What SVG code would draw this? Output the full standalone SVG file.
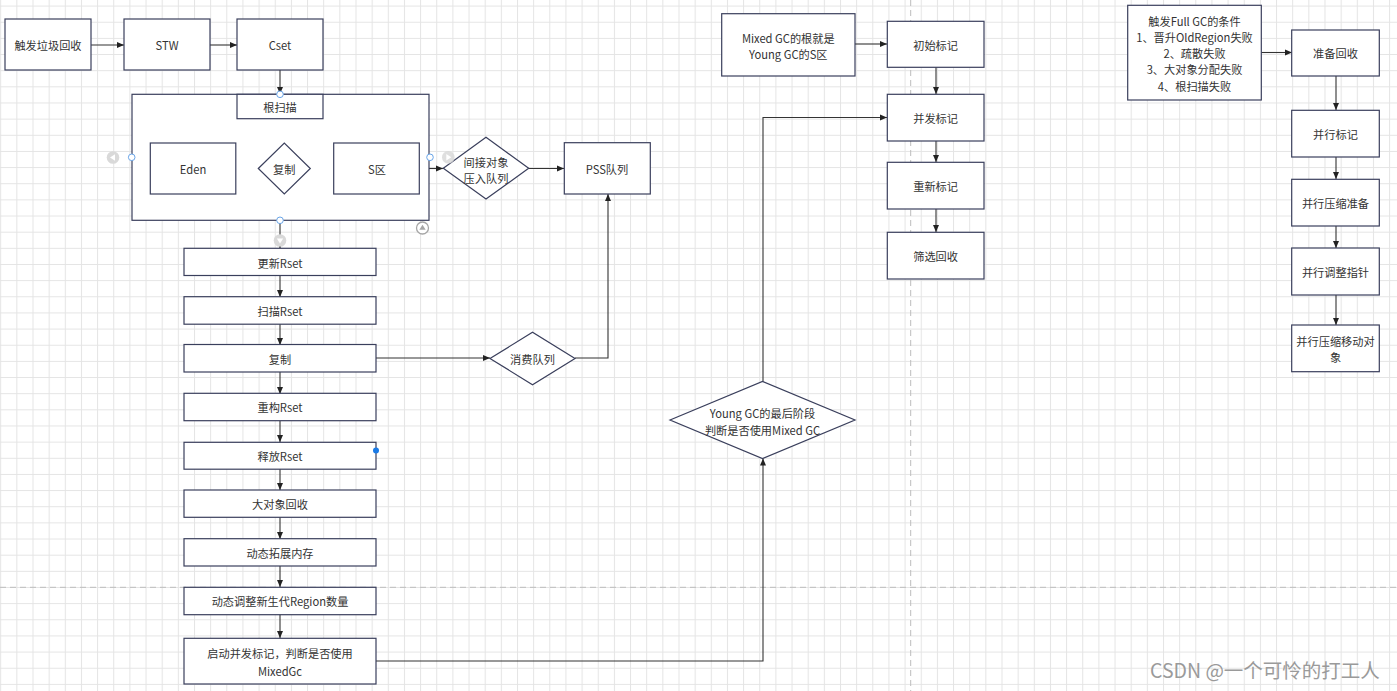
<svg xmlns="http://www.w3.org/2000/svg" width="1397" height="691" viewBox="0 0 1397 691">
<style>
.n{fill:#fff;stroke:#3a3f5c;stroke-width:1.2}
.t{font-family:"Noto Sans CJK SC","Microsoft YaHei",sans-serif;font-size:11.2px;fill:#333;text-anchor:middle;dominant-baseline:central}
.c{fill:none;stroke:#333;stroke-width:1.1}
.pb{stroke:#bdbdbd;stroke-width:1;stroke-dasharray:6 4}
.h{fill:#fff;stroke:#6aa5e8;stroke-width:1}
.gi{fill:#d9d9d9}
.gt{fill:#fff}
</style>
<defs>
<pattern id="grid" patternUnits="userSpaceOnUse" x="0.2" y="5.6" width="16.15" height="16.15">
<path d="M0.5,0 V16.15 M0,0.5 H16.15" fill="none" stroke="#e4e4e4" stroke-width="1"/>
</pattern>
<marker id="ah" markerUnits="userSpaceOnUse" markerWidth="7" markerHeight="7" refX="7" refY="3.5" orient="auto">
<path d="M0,0.5 L7,3.5 L0,6.5 z" fill="#222"/>
</marker>
</defs>
<rect width="1397" height="691" fill="#fff"/>
<rect width="1397" height="691" fill="url(#grid)"/>
<g id="page-breaks">
<line class="pb" x1="0" y1="587.3" x2="1397" y2="587.3"/>
<line class="pb" x1="910.7" y1="0" x2="910.7" y2="691"/>
</g>
<g id="connectors">
<path class="c" d="M91,45 H124" marker-end="url(#ah)"/>
<path class="c" d="M210,45 H237" marker-end="url(#ah)"/>
<path class="c" d="M280,70 V94" marker-end="url(#ah)"/>
<path class="c" d="M236,168.5 H258" marker-end="url(#ah)"/>
<path class="c" d="M310,168.5 H334" marker-end="url(#ah)"/>
<path class="c" d="M420,168.5 H443" marker-end="url(#ah)"/>
<path class="c" d="M529,168.5 H564" marker-end="url(#ah)"/>
<path class="c" d="M280,220 V248" marker-end="url(#ah)"/>
<path class="c" d="M280,276 V297" marker-end="url(#ah)"/>
<path class="c" d="M280,324 V345" marker-end="url(#ah)"/>
<path class="c" d="M280,372 V394" marker-end="url(#ah)"/>
<path class="c" d="M280,421 V442" marker-end="url(#ah)"/>
<path class="c" d="M280,469 V490" marker-end="url(#ah)"/>
<path class="c" d="M280,517 V539" marker-end="url(#ah)"/>
<path class="c" d="M280,566 V587" marker-end="url(#ah)"/>
<path class="c" d="M280,614 V638" marker-end="url(#ah)"/>
<path class="c" d="M376,358 H490" marker-end="url(#ah)"/>
<path class="c" d="M575,358 H608 V194" marker-end="url(#ah)"/>
<path class="c" d="M376,661 H763 V458.5" stroke="#555" marker-end="url(#ah)"/>
<path class="c" d="M763,381.5 V117.5 H887" stroke="#555" marker-end="url(#ah)"/>
<path class="c" d="M855,44 H887" marker-end="url(#ah)"/>
<path class="c" d="M936,67 V94" marker-end="url(#ah)"/>
<path class="c" d="M936,141 V162" marker-end="url(#ah)"/>
<path class="c" d="M936,209 V232" marker-end="url(#ah)"/>
<path class="c" d="M1261,52.5 H1292" marker-end="url(#ah)"/>
<path class="c" d="M1336,76 V110" marker-end="url(#ah)"/>
<path class="c" d="M1336,157 V179" marker-end="url(#ah)"/>
<path class="c" d="M1336,226 V248" marker-end="url(#ah)"/>
<path class="c" d="M1336,295 V325" marker-end="url(#ah)"/>
</g>
<g id="n-trigger"><rect class="n" x="5" y="19" width="86" height="51"/><text class="t" x="48" y="45">触发垃圾回收</text></g>
<g id="n-stw"><rect class="n" x="124" y="19" width="86" height="51"/><text class="t" x="167" y="45">STW</text></g>
<g id="n-cset"><rect class="n" x="237" y="19" width="86" height="51"/><text class="t" x="280" y="45">Cset</text></g>
<g id="n-container"><rect class="n" x="132" y="94.3" width="297" height="126"/></g>
<g id="n-rootscan"><rect class="n" x="237" y="94.3" width="86" height="24.4"/><text class="t" x="280" y="107">根扫描</text></g>
<g id="n-eden"><rect class="n" x="150.3" y="143" width="85.5" height="51"/><text class="t" x="193" y="169">Eden</text></g>
<g id="n-copy1"><polygon class="n" points="258.3,168.5 284.3,143 310.3,168.5 284.3,194"/><text class="t" x="284.3" y="169">复制</text></g>
<g id="n-s"><rect class="n" x="333.7" y="143" width="85.6" height="51"/><text class="t" x="377" y="169">S区</text></g>
<g id="n-indirect"><polygon class="n" points="443.3,168.3 486,137.3 528.7,168.3 486,199"/><text class="t" x="486" y="162.3">间接对象</text><text class="t" x="486" y="178.3">压入队列</text></g>
<g id="n-pss"><rect class="n" x="564.3" y="142.7" width="86" height="51.3"/><text class="t" x="607" y="169">PSS队列</text></g>
<g id="n-upd"><rect class="n" x="184" y="248.3" width="192" height="27.2"/><text class="t" x="280" y="262.5">更新Rset</text></g>
<g id="n-scan"><rect class="n" x="184" y="296.7" width="192" height="27.5"/><text class="t" x="280" y="310.7">扫描Rset</text></g>
<g id="n-copy2"><rect class="n" x="184" y="344.5" width="192" height="27.5"/><text class="t" x="280" y="358.5">复制</text></g>
<g id="n-rebuild"><rect class="n" x="184" y="393.3" width="192" height="27.4"/><text class="t" x="280" y="407.3">重构Rset</text></g>
<g id="n-free"><rect class="n" x="184" y="442.3" width="192" height="26.9"/><text class="t" x="280" y="456">释放Rset</text></g>
<g id="n-large"><rect class="n" x="184" y="490" width="192" height="27.3"/><text class="t" x="280" y="504">大对象回收</text></g>
<g id="n-expand"><rect class="n" x="184" y="538.7" width="192" height="27.3"/><text class="t" x="280" y="552.5">动态拓展内存</text></g>
<g id="n-adjust"><rect class="n" x="184" y="587.3" width="192" height="27.4"/><text class="t" x="280" y="601.2">动态调整新生代Region数量</text></g>
<g id="n-start"><rect class="n" x="184" y="638.3" width="192" height="45.7"/><text class="t" x="280" y="653.3">启动并发标记，判断是否使用</text><text class="t" x="280" y="670.7">MixedGc</text></g>
<g id="n-consume"><polygon class="n" points="490,358.5 532.5,332.3 575,358.5 532.5,384.7"/><text class="t" x="532.5" y="358.5">消费队列</text></g>
<g id="n-younggc"><polygon class="n" points="670,420 762.5,381.5 855,420 762.5,458.5"/><text class="t" x="762.5" y="413.3">Young GC的最后阶段</text><text class="t" x="762.5" y="430">判断是否使用Mixed GC</text></g>
<g id="n-mixedroot"><rect class="n" x="721.7" y="13.7" width="133.3" height="62.3"/><text class="t" x="788.3" y="37.7">Mixed GC的根就是</text><text class="t" x="788.3" y="53.5">Young GC的S区</text></g>
<g id="n-init"><rect class="n" x="887.3" y="21.3" width="96.7" height="46"/><text class="t" x="935.6" y="44.5">初始标记</text></g>
<g id="n-conc"><rect class="n" x="887.3" y="94.3" width="96.7" height="46.7"/><text class="t" x="935.6" y="118">并发标记</text></g>
<g id="n-remark"><rect class="n" x="887.3" y="162.3" width="96.7" height="46.7"/><text class="t" x="935.6" y="186">重新标记</text></g>
<g id="n-filter"><rect class="n" x="887.3" y="232.3" width="96.7" height="46.7"/><text class="t" x="935.6" y="256">筛选回收</text></g>
<g id="n-fullcond"><rect class="n" x="1127.7" y="5.3" width="133.6" height="94.7"/>
<text class="t" x="1194.5" y="20.7">触发Full GC的条件</text>
<text class="t" x="1194.5" y="36.8">1、晋升OldRegion失败</text>
<text class="t" x="1194.5" y="53">2、疏散失败</text>
<text class="t" x="1194.5" y="69.3">3、大对象分配失败</text>
<text class="t" x="1194.5" y="85.6">4、根扫描失败</text></g>
<g id="n-prep"><rect class="n" x="1291.7" y="30" width="87.6" height="46"/><text class="t" x="1335.5" y="53">准备回收</text></g>
<g id="n-pmark"><rect class="n" x="1291.7" y="110.3" width="87.6" height="46.7"/><text class="t" x="1335.5" y="134">并行标记</text></g>
<g id="n-pcprep"><rect class="n" x="1291.7" y="179.3" width="87.6" height="46.7"/><text class="t" x="1335.5" y="203">并行压缩准备</text></g>
<g id="n-pptr"><rect class="n" x="1291.7" y="248" width="87.6" height="47"/><text class="t" x="1335.5" y="272">并行调整指针</text></g>
<g id="n-pmove"><rect class="n" x="1291.7" y="325" width="87.6" height="46.7"/><text class="t" x="1335.5" y="340.5">并行压缩移动对</text><text class="t" x="1335.5" y="357">象</text></g>
<g id="handles">
<circle class="h" cx="280" cy="94.3" r="3.3"/>
<circle class="h" cx="131.7" cy="157.3" r="3.3"/>
<circle class="h" cx="430" cy="157.3" r="3.3"/>
<circle class="h" cx="280" cy="220.3" r="3.3"/>
<circle cx="376" cy="450.5" r="3" fill="#1a7ae6"/>
<circle class="gi" cx="113" cy="157.5" r="6.3"/><path class="gt" d="M110,157.5 L115,154.3 L115,160.7 z"/>
<circle class="gi" cx="448.3" cy="157.3" r="6.3" opacity="0.85"/><path class="gt" d="M451.3,157.3 L446.3,154.1 L446.3,160.5 z"/>
<circle class="gi" cx="280" cy="240.5" r="6.3"/><path class="gt" d="M280,243.5 L276.8,238.5 L283.2,238.5 z"/>
<circle cx="422.5" cy="228" r="6" fill="#fff" stroke="#a6a6a6" stroke-width="1.3"/><path d="M422.5,224.8 L419.3,229.8 L425.7,229.8 z" fill="#a6a6a6"/>
</g>
<text x="1150" y="678" font-family="'Noto Sans CJK SC','Liberation Sans',sans-serif" font-size="19.5" fill="#9a9a9a">CSDN @一个可怜的打工人</text>
</svg>
